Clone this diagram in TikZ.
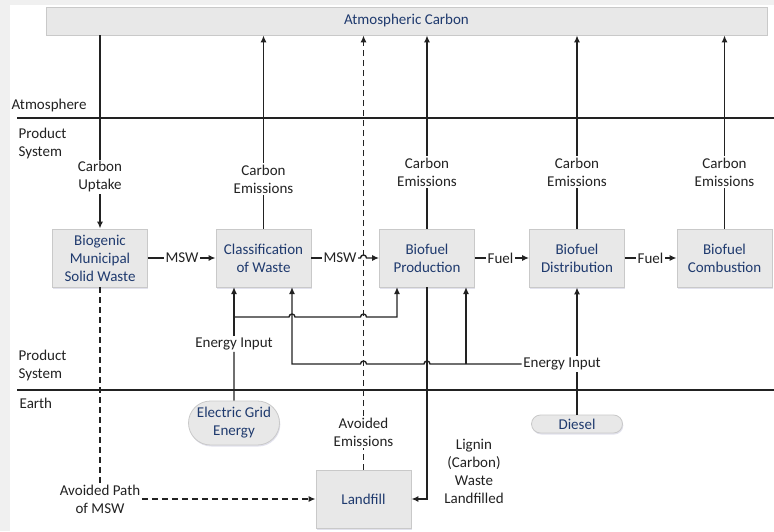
\documentclass[tikz,border=0pt]{standalone}
\usepackage{fontspec}
\setmainfont{Carlito}
\usetikzlibrary{arrows.meta,calc,shapes.misc,shadows}
\definecolor{navy}{HTML}{1F3A6E}
\definecolor{boxgray}{HTML}{E8E8E8}
\definecolor{edgegray}{HTML}{C9C9C9}
\definecolor{ink}{HTML}{222222}
\begin{document}
\begin{tikzpicture}[x=1pt,y=1pt,
    font=\fontsize{15}{18}\selectfont,
    >={Latex[length=7pt,width=6pt]},
    line width=1.35pt,
    procbox/.style={draw=edgegray,line width=0.8pt,fill=boxgray,text=navy,align=center,
      minimum width=95pt,minimum height=58pt,inner sep=2pt,
      drop shadow={shadow xshift=0.8pt,shadow yshift=-1.5pt,fill=blue!25!gray!30,opacity=0.6}},
    sourcebox/.style={procbox,rounded rectangle,minimum height=18pt},
    lbl/.style={text=ink,align=center,inner sep=1pt},
    dashline/.style={dash pattern=on 6pt off 4pt}]

    % Background
    \fill[gray!12] (0,0) rectangle (774,531);
    \fill[white] (10,0) rectangle (774,526);
    \useasboundingbox (0,0) rectangle (774,531);

    % Layers
    \draw[ink] (17,413) -- (774,413);
    \draw[ink] (17,141) -- (774,141);
    \node[lbl,anchor=west] (atmlayer) at (10,425) {Atmosphere};
    \node[lbl,anchor=west,align=left] (prodlayer) at (17,387) {Product\\System};
    \node[lbl,anchor=west,align=left] (prodlayer2) at (17,166) {Product\\System};
    \node[lbl,anchor=west] (earthlayer) at (18,128) {Earth};

    % Boxes
    \node[procbox,minimum width=721pt,minimum height=28pt] (atm) at (406.5,510) {Atmospheric Carbon};
    \node[procbox] (bio) at (100,273) {Biogenic\\Municipal\\Solid Waste};
    \node[procbox] (cls) at (263.5,273) {Classification\\of Waste};
    \node[procbox] (prod) at (427,273) {Biofuel\\Production};
    \node[procbox] (dist) at (577,273) {Biofuel\\Distribution};
    \node[procbox] (comb) at (724.5,273) {Biofuel\\Combustion};
    \node[procbox] (landfill) at (363.5,32) {Landfill};
    \node[sourcebox,minimum height=44pt] (grid) at (234,108) {Electric Grid\\Energy};
    \node[sourcebox] (diesel) at (577,107) {Diesel};

    % Labels
    \node[lbl] (uptake) at (100,354) {Carbon\\Uptake};
    \node[lbl] (cem1) at (263.5,352) {Carbon\\Emissions};
    \node[lbl] (cem2) at (427,359) {Carbon\\Emissions};
    \node[lbl] (cem3) at (577,359) {Carbon\\Emissions};
    \node[lbl] (cem4) at (724.5,359) {Carbon\\Emissions};
    \node[lbl] (msw1) at (182,273) {MSW};
    \node[lbl] (msw2) at (340,273) {MSW};
    \node[lbl] (fuel1) at (500.5,273) {Fuel};
    \node[lbl] (fuel2) at (650.5,273) {Fuel};
    \node[lbl] (ein1) at (234,187) {Energy Input};
    \node[lbl] (ein2) at (562,167) {Energy Input};
    \node[lbl] (avem) at (363.5,99) {Avoided\\Emissions};
    \node[lbl] (avpath) at (100,32) {Avoided Path\\of MSW};
    \node[lbl] (lignin) at (474,60) {Lignin\\(Carbon)\\Waste\\Landfilled};

    % Inputs at box bottoms
    \coordinate (cin1) at (234,244);
    \coordinate (cin2) at (292,244);
    \coordinate (pin1) at (397,244);
    \coordinate (pin2) at (466,244);

    % Carbon flows
    \draw[ink] (atm.south -| uptake) -- (uptake);
    \draw[ink,->] (uptake) -- (bio);
    \foreach \e/\b in {cem1/cls,cem2/prod,cem3/dist,cem4/comb}{
        \draw[ink] (\b) -- (\e);
        \draw[ink,->] (\e) -- (\e |- atm.south);
    }

    % Material flows
    \draw[ink] (bio) -- (msw1);
    \draw[ink,->] (msw1) -- (cls);
    \draw[ink] (cls) -- (msw2);
    \draw[ink,->] (msw2.east) -- ($(msw2 -| landfill)+(-3,0)$)
        arc[start angle=180,end angle=0,radius=3] -- (prod.west);
    \draw[ink] (prod) -- (fuel1);
    \draw[ink,->] (fuel1) -- (dist);
    \draw[ink] (dist) -- (fuel2);
    \draw[ink,->] (fuel2) -- (comb);

    % Energy inputs
    \draw[ink] (grid) -- (ein1);
    \draw[ink,->] (ein1) -- (cin1);
    \draw[ink,->] (cin1 |- 0,214) -- ($(cin2 |- 0,214)+(-3,0)$)
        arc[start angle=180,end angle=0,radius=3]
        -- ($(landfill |- 0,214)+(-3,0)$)
        arc[start angle=180,end angle=0,radius=3]
        -- (pin1 |- 0,214) -- (pin1);
    \draw[ink,->] (ein2.west) -- ($(ein2 -| prod)+(3,0)$)
        arc[start angle=0,end angle=180,radius=3]
        -- ($(ein2 -| landfill)+(3,0)$)
        arc[start angle=0,end angle=180,radius=3]
        -- (ein2 -| cin2) -- (cin2);
    \draw[ink,->] (ein2 -| pin2) -- (pin2);
    \draw[ink] (diesel.north) -- (diesel.north |- ein2.south);
    \draw[ink,->] (diesel.north |- ein2.north) -- (dist.south);

    % Landfill flows
    \draw[ink,->] (prod.south) -- (prod.south |- landfill) -- (landfill.east);
    \draw[ink,dashline] (landfill) -- (avem);
    \draw[ink,dashline,->] (avem) -- (avem |- atm.south);
    \draw[ink,dashline] (bio) -- (avpath);
    \draw[ink,dashline,->] (avpath) -- (landfill);
\end{tikzpicture}
\end{document}
